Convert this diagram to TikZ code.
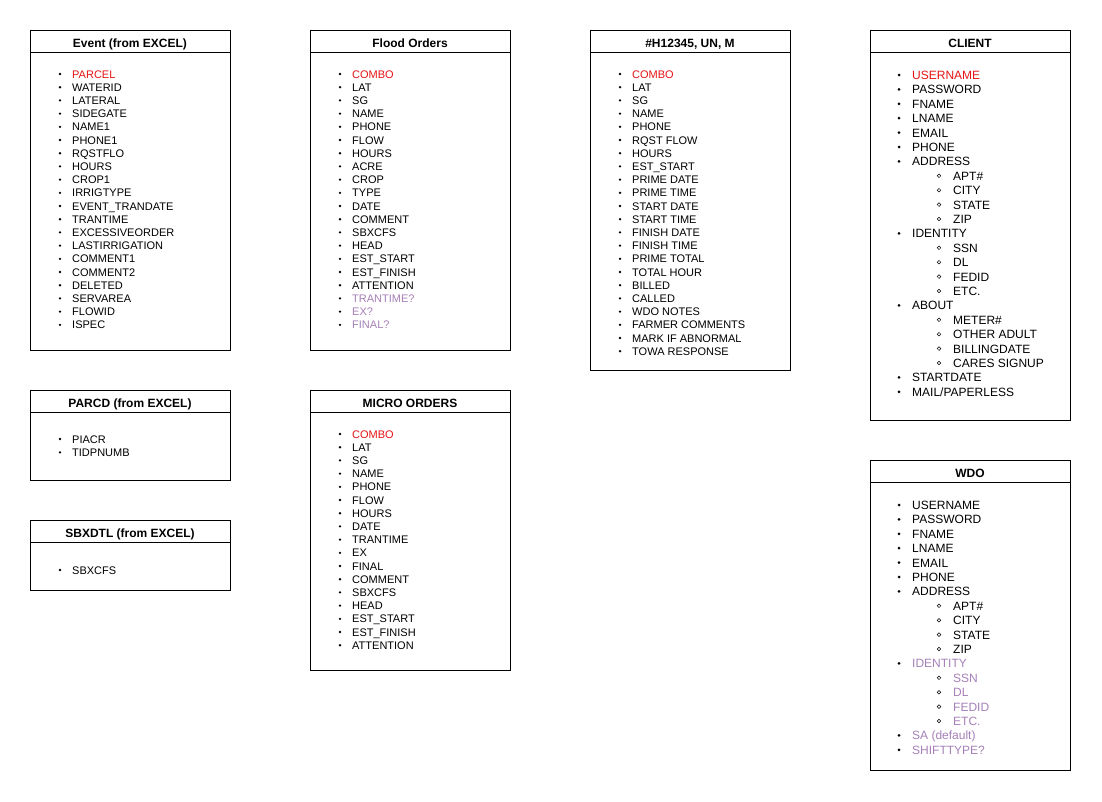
\documentclass[tikz,border=0pt]{standalone}
\usepackage{fontspec}
\setmainfont{Liberation Sans}

\definecolor{keyred}{RGB}{230,20,20}
\definecolor{maybe}{RGB}{166,128,184}

\tikzset{
  entity/.style={rectangle, draw, line width=0.8pt, minimum width=200pt, inner sep=0pt},
  title/.style={anchor=base, inner sep=0pt, font=\fontsize{12}{14}\selectfont\bfseries},
  field/.style={anchor=base west, inner sep=0pt, font=\fontsize{11}{13}\selectfont},
  bigfield/.style={anchor=base west, inner sep=0pt, font=\fontsize{12}{14}\selectfont}
}

% flat list: name, bullet x, first baseline, step, items
\newcommand{\fieldlist}[5]{%
  \foreach \f [count=\i from 0] in {#5} {
    \fill (#2, #3+#4*\i-4) circle (1.3pt);
    \node[field] (#1-\i) at (#2+12, #3+#4*\i) {\f};
  }}

% two level list: level/text pairs
\newcommand{\nestlist}[5]{%
  \foreach \lv/\f [count=\i from 0] in {#5} {
    \ifnum\lv=1
      \fill (#2, #3+#4*\i-4.5) circle (1.5pt);
      \node[bigfield] (#1-\i) at (#2+13, #3+#4*\i) {\f};
    \else
      \draw[line width=0.5pt] (#2+40, #3+#4*\i-4.5) circle (1.8pt);
      \node[bigfield] (#1-\i) at (#2+54, #3+#4*\i) {\f};
    \fi
  }}

\begin{document}
\begin{tikzpicture}[x=1pt, y=-1pt]

\fill[white] (0,0) rectangle (1102,801);
\useasboundingbox (0,0) rectangle (1102,801);

\node[entity, minimum height=320pt] (event) at (130,190) {};
\node[entity, minimum height=320pt] (flood) at (410,190) {};
\node[entity, minimum height=340pt] (hnum) at (690,200) {};
\node[entity, minimum height=390pt] (client) at (970,225) {};
\node[entity, minimum height=90pt] (parcd) at (130,435) {};
\node[entity, minimum height=70pt] (sbxdtl) at (130,555) {};
\node[entity, minimum height=280pt] (micro) at (410,530) {};
\node[entity, minimum height=310pt] (wdo) at (970,615) {};

\foreach \b in {event, flood, hnum, client, parcd, sbxdtl, micro, wdo}
  \draw[line width=0.8pt] ([yshift=-23pt]\b.north west) -- ([yshift=-23pt]\b.north east);

\node[title] (event-title) at (130,47) {Event (from EXCEL)};
\node[title] (flood-title) at (410,47) {Flood Orders};
\node[title] (hnum-title) at (690,47) {\#H12345, UN, M};
\node[title] (client-title) at (970,47) {CLIENT};
\node[title] (parcd-title) at (130,407) {PARCD (from EXCEL)};
\node[title] (sbxdtl-title) at (130,537) {SBXDTL (from EXCEL)};
\node[title] (micro-title) at (410,407) {MICRO ORDERS};
\node[title] (wdo-title) at (970,477) {WDO};

\fieldlist{event}{60}{78}{13.2}{{\color{keyred}PARCEL}, WATERID, LATERAL, SIDEGATE,
  NAME1, PHONE1, RQSTFLO, HOURS, CROP1, IRRIGTYPE, EVENT\_TRANDATE, TRANTIME,
  EXCESSIVEORDER, LASTIRRIGATION, COMMENT1, COMMENT2, DELETED, SERVAREA, FLOWID, ISPEC}

\fieldlist{flood}{340}{78}{13.2}{{\color{keyred}COMBO}, LAT, SG, NAME, PHONE, FLOW,
  HOURS, ACRE, CROP, TYPE, DATE, COMMENT, SBXCFS, HEAD, EST\_START, EST\_FINISH,
  ATTENTION, {\color{maybe}TRANTIME?}, {\color{maybe}EX?}, {\color{maybe}FINAL?}}

\fieldlist{hnum}{620}{78}{13.2}{{\color{keyred}COMBO}, LAT, SG, NAME, PHONE,
  RQST FLOW, HOURS, EST\_START, PRIME DATE, PRIME TIME, START DATE, START TIME,
  FINISH DATE, FINISH TIME, PRIME TOTAL, TOTAL HOUR, BILLED, CALLED, WDO NOTES,
  FARMER COMMENTS, MARK IF ABNORMAL, TOWA RESPONSE}

\fieldlist{parcd}{60}{443}{13.3}{PIACR, TIDPNUMB}

\fieldlist{sbxdtl}{60}{574}{13.2}{SBXCFS}

\fieldlist{micro}{340}{438}{13.2}{{\color{keyred}COMBO}, LAT, SG, NAME, PHONE, FLOW,
  HOURS, DATE, TRANTIME, EX, FINAL, COMMENT, SBXCFS, HEAD, EST\_START, EST\_FINISH,
  ATTENTION}

\nestlist{client}{899}{79.5}{14.4}{1/{\color{keyred}USERNAME}, 1/PASSWORD, 1/FNAME,
  1/LNAME, 1/EMAIL, 1/PHONE, 1/ADDRESS, 2/APT\#, 2/CITY, 2/STATE, 2/ZIP,
  1/IDENTITY, 2/SSN, 2/DL, 2/FEDID, 2/ETC., 1/ABOUT, 2/METER\#, 2/OTHER ADULT,
  2/BILLINGDATE, 2/CARES SIGNUP, 1/STARTDATE, 1/{MAIL/PAPERLESS}}

\nestlist{wdo}{899}{509.5}{14.4}{1/USERNAME, 1/PASSWORD, 1/FNAME, 1/LNAME, 1/EMAIL,
  1/PHONE, 1/ADDRESS, 2/APT\#, 2/CITY, 2/STATE, 2/ZIP, 1/{\color{maybe}IDENTITY},
  2/{\color{maybe}SSN}, 2/{\color{maybe}DL}, 2/{\color{maybe}FEDID},
  2/{\color{maybe}ETC.}, 1/{\color{maybe}SA (default)}, 1/{\color{maybe}SHIFTTYPE?}}

\end{tikzpicture}
\end{document}
